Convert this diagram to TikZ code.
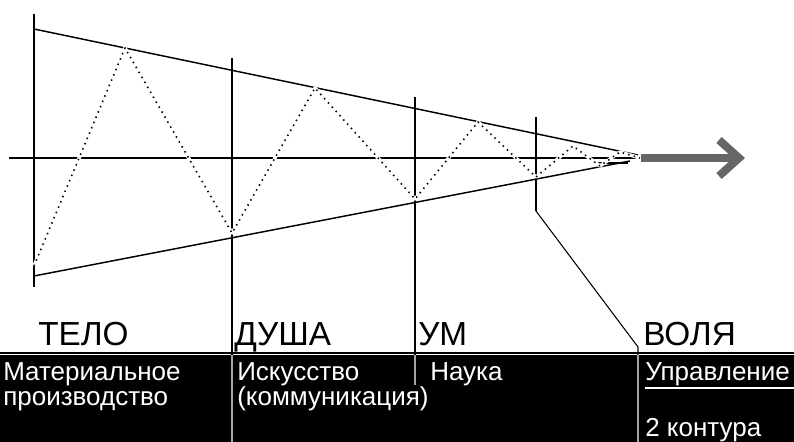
\documentclass[tikz,border=0pt]{standalone}
\usepackage{fontspec}
\setmainfont{Liberation Sans}
\begin{document}
\begin{tikzpicture}[x=0.75pt,y=-0.75pt,
  mainline/.style={line width=1.1pt, black},
  linkline/.style={line width=0.8pt, black},
  bandline/.style={line width=0.8pt, black!35},
  zigunder/.style={line width=2.6pt, white},
  zigdots/.style={line width=1.2pt, black, dash pattern=on 1.1pt off 3.2pt},
  arrowband/.style={line width=6pt, black!60},
  biglabel/.style={anchor=base west, inner sep=0pt, font=\fontsize{25pt}{29pt}\selectfont},
  bandtext/.style={anchor=base west, inner sep=0pt, text=white, font=\fontsize{19.5pt}{23pt}\selectfont}]
\useasboundingbox (0,0) rectangle (794,442);
\fill[white] (0,0) rectangle (794,442);

% key points
\coordinate (TL) at (34,29);
\coordinate (BL) at (34,276);
\coordinate (TR) at (638,155);
\coordinate (BR) at (630,161);
\coordinate (axL) at (9,158);
\coordinate (axR) at (640,158);
\coordinate (v1t) at (34,14);
\coordinate (v1b) at (34,287);
\coordinate (v2t) at (232,58);
\coordinate (v2m) at (232,355);
\coordinate (v2b) at (232,442);
\coordinate (v3t) at (415,97);
\coordinate (v3m) at (415,355);
\coordinate (v3b) at (415,385);
\coordinate (v4t) at (536,117);
\coordinate (v4k) at (536,211);
\coordinate (v4d) at (638,347);
\coordinate (v4m) at (638,355);
\coordinate (v4b) at (638,442);

% band
\fill[black] (0,355.5) rectangle (794,442);
\draw[line width=0.8pt] (0,353) -- (794,353);

% main structure
\draw[mainline] (axL) -- (axR);
\draw[mainline] (TL) -- (TR);
\draw[mainline] (BL) -- (BR);
\draw[mainline] (598,163) -- (628,163);
\draw[mainline] (v1t) -- (v1b);
\draw[mainline] (v2t) -- (v2m);
\draw[mainline] (v3t) -- (v3m);
\draw[mainline] (v4t) -- (v4k);
\draw[linkline] (v4k) -- (v4d) -- (v4m);
\draw[bandline] (v2m) -- (v2b);
\draw[bandline] (v3m) -- (v3b);
\draw[bandline] (v4m) -- (v4b);

% zigzag
\def\zigpath{(34,266) -- (125,48) -- (232,233) -- (315,88) -- (415,199) -- (478,122) -- (536,177) -- (573,146) -- (600,166) -- (620,152) -- (640,158)}
\draw[zigunder, line join=round] \zigpath;
\draw[zigdots, line join=round] \zigpath;

% arrow
\draw[arrowband] (641,158) -- (736,158);
\draw[arrowband, miter limit=4] (719,140) -- (739,158) -- (719,176);

% labels
\node[biglabel] (telo) at (38,346) {ТЕЛО};
\node[biglabel] (dusha) at (234,346) {ДУША};
\node[biglabel] (um) at (418,346) {УМ};
\node[biglabel] (volya) at (643,346) {ВОЛЯ};

% band texts
\node[bandtext] (mat) at (3,381) {Материальное};
\node[bandtext] (proiz) at (3,406) {производство};
\node[bandtext] (isk) at (237,381) {Искусство};
\node[bandtext] (komm) at (237,406) {(коммуникация)};
\node[bandtext] (nauka) at (430,381) {Наука};
\node[bandtext] (upr) at (645,381) {Управление};
\node[bandtext] (kont) at (645,436) {2 контура};
\draw[white, line width=0.8pt] (upr.base west) ++(0,7) -- ++(149,0);
\end{tikzpicture}
\end{document}
